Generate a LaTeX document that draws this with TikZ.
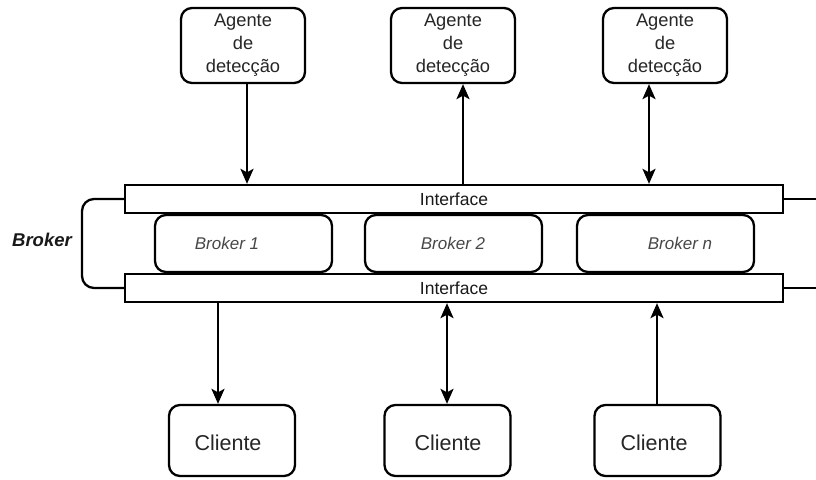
\documentclass[tikz,border=0pt]{standalone}
\usepackage{fontspec}
\setmainfont{Liberation Sans}
\usetikzlibrary{arrows.meta,calc}

\tikzset{
  x=1pt, y=-1pt,
  rbox/.style={draw, line width=2.3pt, rounded corners=11pt, fill=white, inner sep=0pt},
  agentbox/.style={rbox, minimum width=124pt, minimum height=75pt, align=center,
    text=black!85, font=\fontsize{18.3}{23}\selectfont},
  clientbox/.style={rbox, minimum width=126pt, minimum height=71pt},
  brokerbox/.style={rbox, minimum width=177pt, minimum height=57pt},
  ifbar/.style={draw, line width=2.3pt, fill=white, minimum width=658pt, minimum height=28pt,
    inner sep=0pt, text=black!90, font=\fontsize{17.5}{20}\selectfont},
  brokertxt/.style={inner sep=0pt, text=black!72, font=\fontsize{17}{20}\selectfont\itshape},
  clienttxt/.style={inner sep=0pt, text=black!85, font=\fontsize{21.5}{24}\selectfont},
  link/.style={line width=2.3pt, >={Stealth[length=15pt, width=13pt, inset=3.5pt]}},
  fwd/.style={link, ->},
  back/.style={link, <-},
  both/.style={link, <->},
}

\begin{document}
\begin{tikzpicture}
  \useasboundingbox (0,0) rectangle (816,479);

  % detection agents
  \node[agentbox] (a1) at (243,45.5) {Agente\\de\\detecção};
  \node[agentbox] (a2) at (453,45.5) {Agente\\de\\detecção};
  \node[agentbox] (a3) at (665,45.5) {Agente\\de\\detecção};

  % interface bars
  \node[ifbar] (itop) at (454,199) {Interface};
  \node[ifbar] (ibot) at (454,288) {Interface};

  % brokers
  \node[brokerbox] (b1) at (243.5,243.5) {};
  \node[brokerbox] (b2) at (453.5,243.5) {};
  \node[brokerbox] (b3) at (665.5,243.5) {};
  \node[brokertxt] (b1t) at (227,243) {Broker 1};
  \node[brokertxt] (b2t) at (453,243) {Broker 2};
  \node[brokertxt] (b3t) at (680,243) {Broker n};

  % clients
  \node[clientbox] (c1) at (232,440.5) {};
  \node[clientbox] (c2) at (447.5,440.5) {};
  \node[clientbox] (c3) at (657.5,440.5) {};
  \node[clienttxt] (c1t) at (228,443) {Cliente};
  \node[clienttxt] (c2t) at (448,443) {Cliente};
  \node[clienttxt] (c3t) at (654,443) {Cliente};

  % broker group bracket and label
  \coordinate (xb) at (82,0);
  \draw[link, rounded corners=12pt] (itop.west) -- (itop.west -| xb) -- (ibot.west -| xb) -- (ibot.west);
  \node[inner sep=0pt, text=black!90, font=\fontsize{18.5}{20}\selectfont\bfseries\itshape] (blabel) at (42,240) {Broker};

  % stubs leaving on the right
  \coordinate (rt) at (816,199);
  \coordinate (rb) at (816,288);
  \draw[link] (itop.east) -- (rt);
  \draw[link] (ibot.east) -- (rb);

  % agent links
  \coordinate (u1) at (247,0);
  \coordinate (u2) at (463,0);
  \coordinate (u3) at (649,0);
  \draw[fwd]  (a1.south -| u1) -- (itop.north -| u1);
  \draw[back] (a2.south -| u2) -- (itop.north -| u2);
  \draw[both] (a3.south -| u3) -- (itop.north -| u3);

  % client links
  \coordinate (d1) at (218,0);
  \coordinate (d2) at (447,0);
  \coordinate (d3) at (657,0);
  \draw[fwd]  (ibot.south -| d1) -- (c1.north -| d1);
  \draw[both] (ibot.south -| d2) -- (c2.north -| d2);
  \draw[back] (ibot.south -| d3) -- (c3.north -| d3);
\end{tikzpicture}
\end{document}
